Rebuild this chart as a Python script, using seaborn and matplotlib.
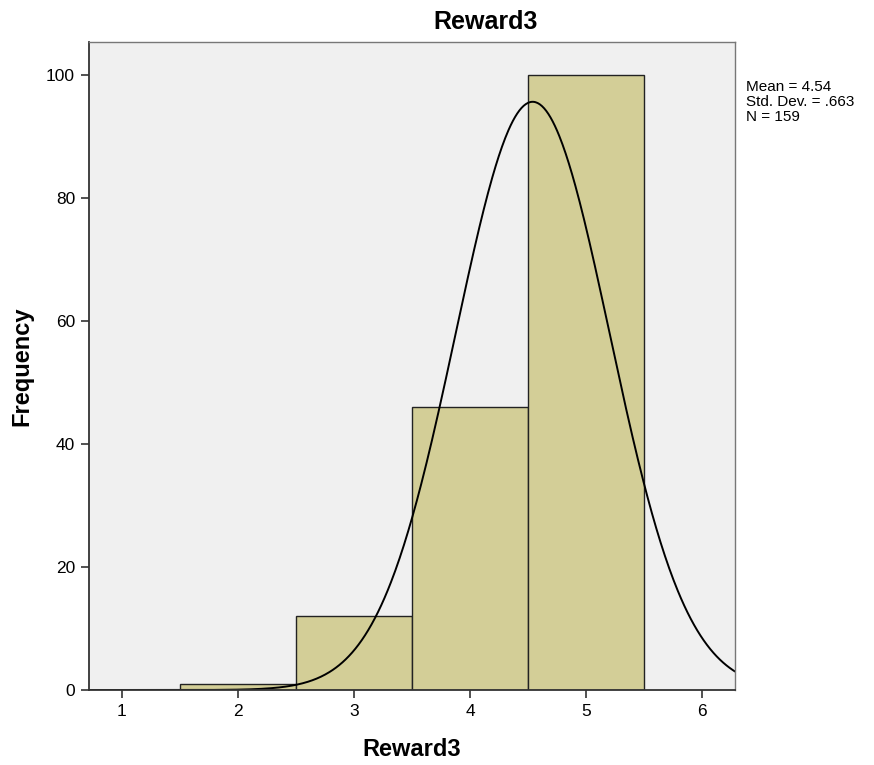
import numpy as np
import matplotlib
matplotlib.use("Agg")
import matplotlib.pyplot as plt
import seaborn as sns

# Data
values = [2, 3, 4, 5]
counts = [1, 12, 46, 100]
bin_edges = [1.5, 2.5, 3.5, 4.5, 5.5]
x_ticks = [1, 2, 3, 4, 5, 6]
y_ticks = [0, 20, 40, 60, 80, 100]
mean_val = 4.54
sd_val = 0.663
n_val = 159
title = "Reward3"
xlabel = "Reward3"
ylabel = "Frequency"

sns.set_style("white")
plt.rcParams['font.family'] = ['Liberation Sans', 'DejaVu Sans']
plt.rcParams['text.color'] = 'black'
plt.rcParams['axes.labelcolor'] = 'black'
plt.rcParams['xtick.color'] = 'black'
plt.rcParams['ytick.color'] = 'black'

fig = plt.figure(figsize=(8.74, 7.65), dpi=100)
ax = fig.add_axes([89/874, 1-690/765, (735-89)/874, (690-42)/765])
ax.set_facecolor("#f0f0f0")

sns.histplot(x=values, weights=counts, bins=bin_edges, ax=ax,
             color="#d3ce97", alpha=1, edgecolor="#222222", linewidth=1.0)

xs = np.linspace(0.716, 6.284, 600)
ys = n_val * 1.0 / (sd_val * np.sqrt(2*np.pi)) * np.exp(-0.5*((xs-mean_val)/sd_val)**2)
ax.plot(xs, ys, color="black", lw=1.4)

ax.set_xlim(0.716, 6.284)
ax.set_ylim(0, 105.4)
ax.set_xticks(x_ticks)
ax.set_yticks(y_ticks)
ax.tick_params(axis='both', direction='out', length=6, width=1.2, color="#333333",
               labelcolor="black", labelsize=12.5, pad=4, bottom=True, left=True)
for side in ['left', 'bottom']:
    ax.spines[side].set_color("#333333")
    ax.spines[side].set_linewidth(1.3)
for side in ['top', 'right']:
    ax.spines[side].set_color("#777777")
    ax.spines[side].set_linewidth(1.0)

fig.text(486/874, 1-22/765, title, fontsize=18, fontweight='bold',
         ha='center', va='center', color='black')
ax.set_xlabel(xlabel, fontsize=17, fontweight='bold', labelpad=14, color='black')
ax.set_ylabel("")
fig.text(22/874, 1-366/765, ylabel, fontsize=17, fontweight='bold',
         rotation=90, ha='center', va='center', color='black')

fig.text(746/874, 1-102/765, f"Mean = {mean_val:.2f}\nStd. Dev. = .663\nN = {n_val}",
         fontsize=11, va='center', ha='left', linespacing=1.05, color='black')

fig.savefig("out.png", dpi=100, facecolor="white")
